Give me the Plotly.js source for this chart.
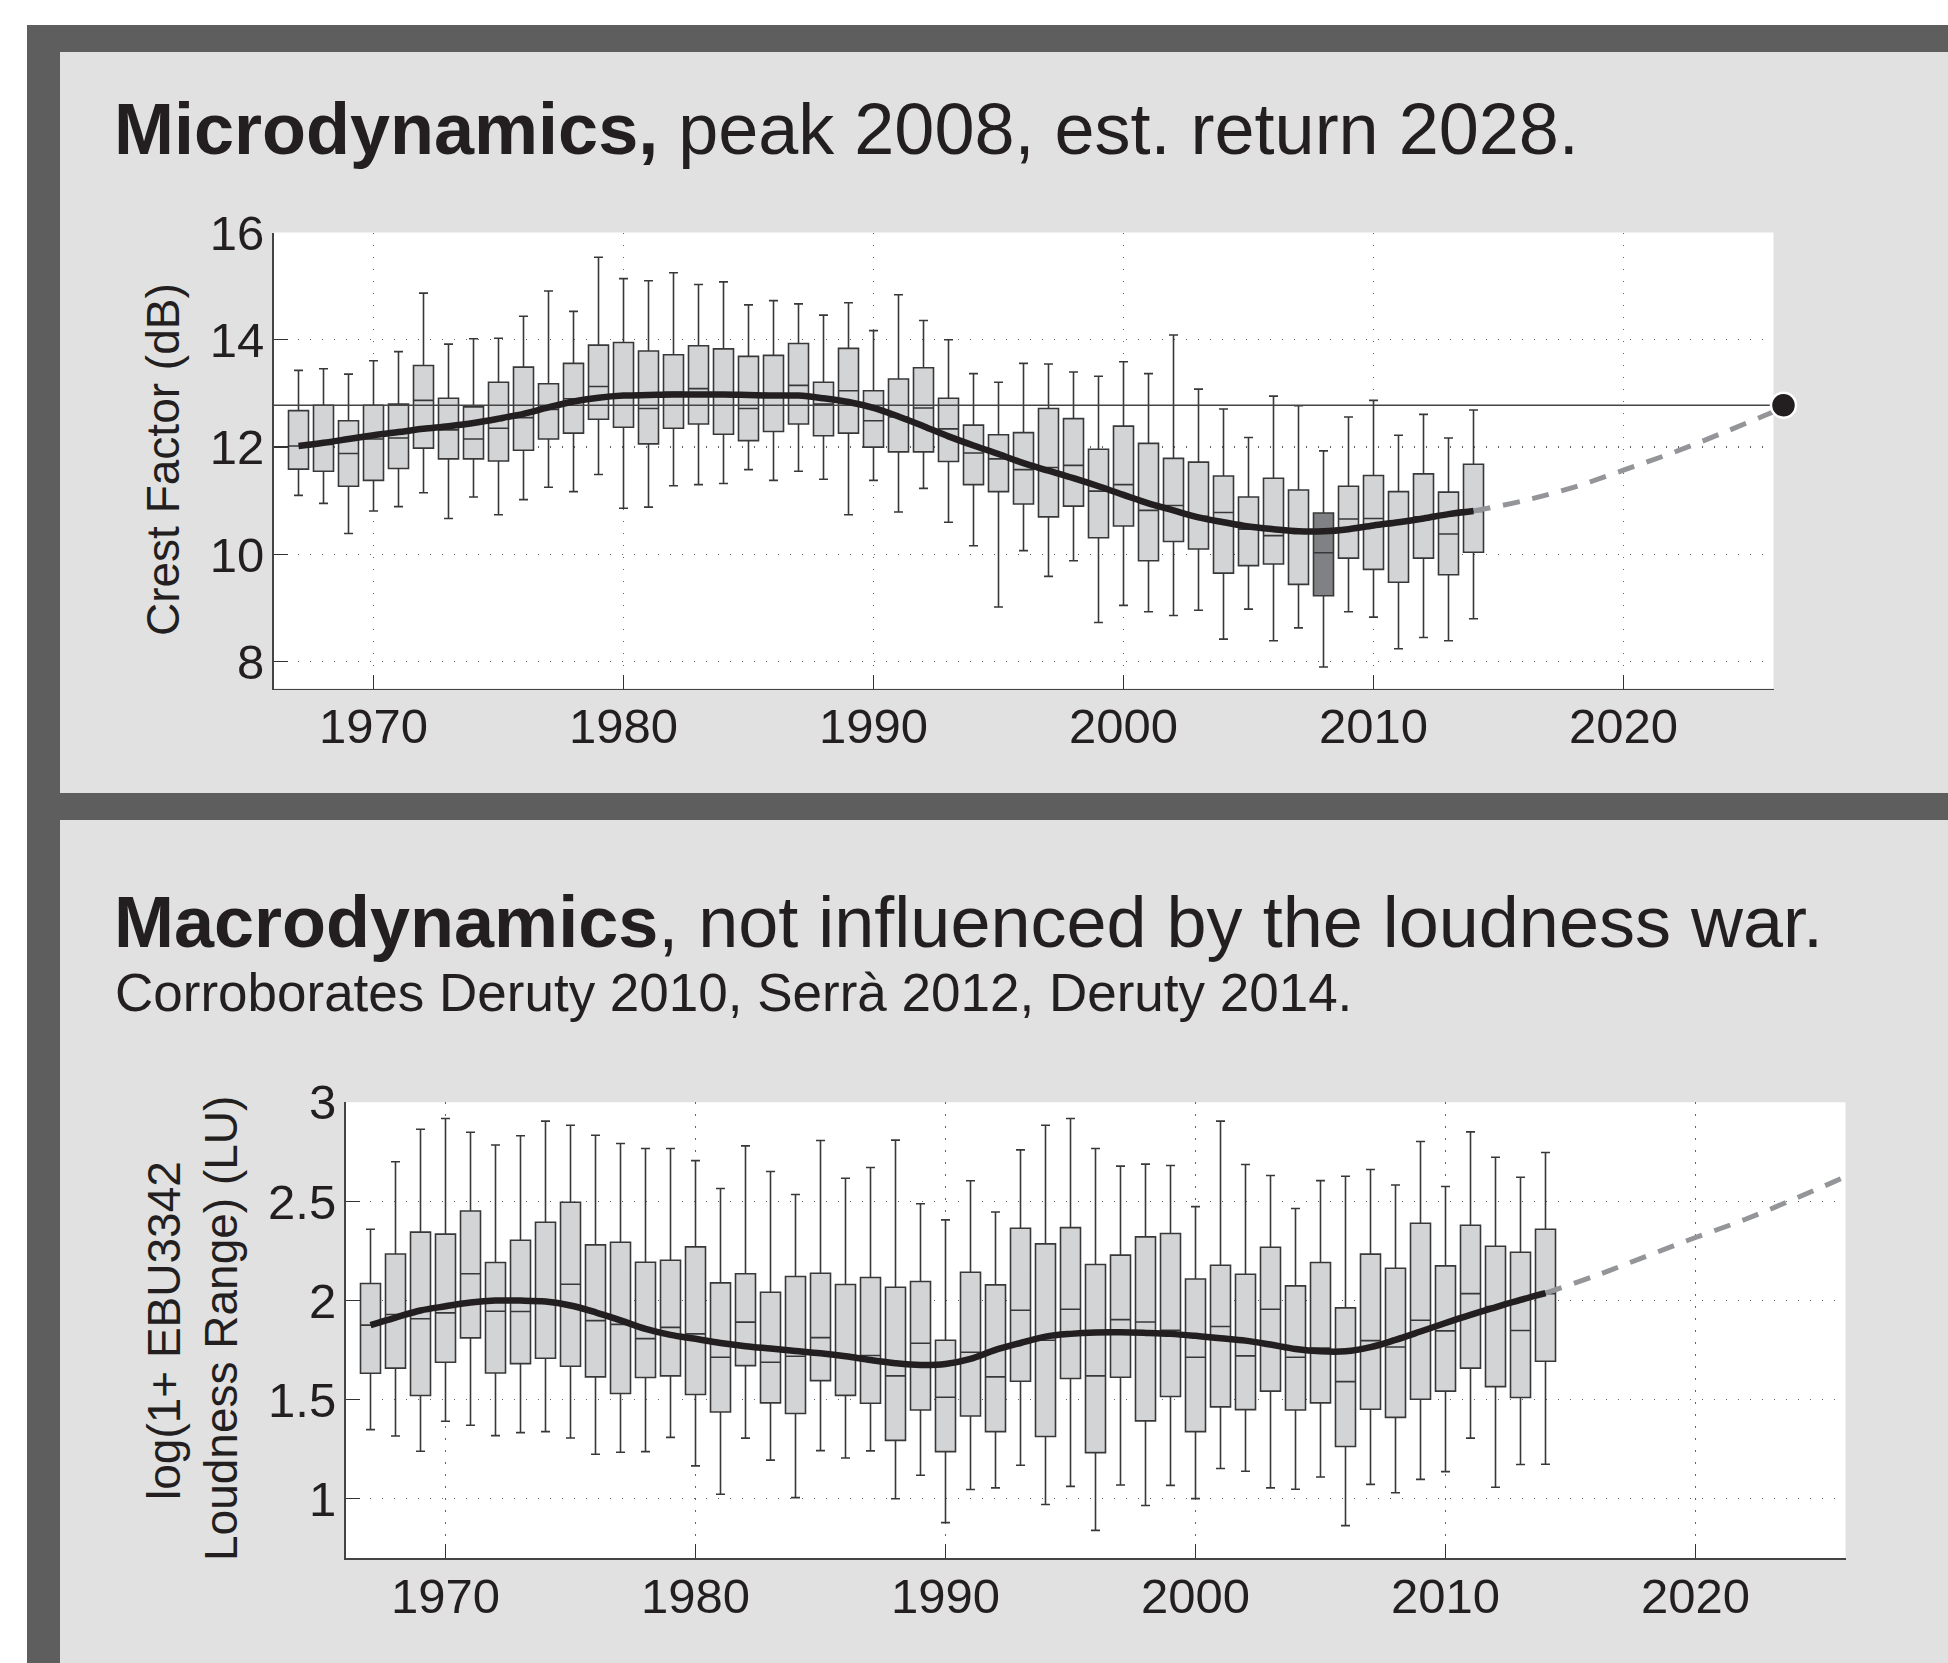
<!DOCTYPE html>
<html>
<head>
<meta charset="utf-8">
<script src="https://cdn.plot.ly/plotly-3.0.1.min.js"></script>
<style>
html,body{margin:0;padding:0;background:#fff;overflow:hidden;}
#chart{width:1948px;height:1663px;}
</style>
</head>
<body>
<div id="chart"></div>
<script>
// ---------- data ----------
var years = [1967,1968,1969,1970,1971,1972,1973,1974,1975,1976,1977,1978,1979,1980,1981,1982,1983,1984,1985,1986,1987,1988,1989,1990,1991,1992,1993,1994,1995,1996,1997,1998,1999,2000,2001,2002,2003,2004,2005,2006,2007,2008,2009,2010,2011,2012,2013,2014];

// Microdynamics: crest factor (dB)
var crestHigh = [13.43,13.46,13.36,13.61,13.78,14.87,13.92,14.02,14.03,14.44,14.91,14.53,15.54,15.14,15.10,15.25,15.03,15.08,14.65,14.73,14.67,14.46,14.69,14.17,14.84,14.36,14.00,13.37,13.21,13.56,13.55,13.40,13.32,13.59,13.37,14.09,13.08,12.71,12.18,12.95,12.77,11.93,12.56,12.87,12.22,12.61,12.17,12.69];
var crestQ3 = [12.68,12.78,12.49,12.78,12.80,13.52,12.91,12.75,13.21,13.49,13.18,13.56,13.90,13.95,13.79,13.72,13.89,13.83,13.69,13.71,13.93,13.21,13.84,13.05,13.27,13.48,12.91,12.41,12.23,12.27,12.72,12.53,11.96,12.39,12.07,11.79,11.72,11.46,11.07,11.42,11.20,10.77,11.27,11.47,11.17,11.50,11.16,11.68];
var crestMedian = [12.02,12.05,11.88,12.15,12.17,12.87,12.32,12.15,12.35,12.55,12.70,12.90,13.13,12.95,12.72,13.02,13.09,12.95,12.72,12.95,13.15,12.80,13.05,12.49,12.56,12.73,12.34,11.89,11.78,11.58,11.62,11.66,11.18,11.30,10.82,10.91,10.71,10.78,10.47,10.35,10.45,10.03,10.66,10.67,10.60,10.70,10.38,10.80];
var crestQ1 = [11.59,11.55,11.27,11.38,11.60,11.98,11.78,11.78,11.74,11.94,12.15,12.26,12.52,12.37,12.06,12.35,12.43,12.24,12.12,12.29,12.43,12.21,12.26,12.00,11.91,11.91,11.73,11.30,11.17,10.94,10.70,10.90,10.31,10.53,9.88,10.24,10.10,9.65,9.79,9.82,9.44,9.23,9.93,9.72,9.48,9.93,9.62,10.04];
var crestLow = [11.10,10.95,10.39,10.81,10.89,11.15,10.67,11.07,10.74,11.02,11.25,11.17,11.49,10.86,10.88,11.28,11.30,11.32,11.58,11.38,11.55,11.40,10.74,11.38,10.79,11.23,10.60,10.16,9.02,10.07,9.59,9.88,8.73,9.05,8.93,8.86,8.96,8.42,8.98,8.39,8.63,7.90,8.93,8.83,8.24,8.45,8.39,8.80];
var crestTrend = [12.02,12.08,12.15,12.22,12.28,12.34,12.39,12.45,12.53,12.62,12.74,12.85,12.92,12.96,12.97,12.98,12.98,12.98,12.97,12.96,12.96,12.91,12.84,12.73,12.57,12.39,12.20,12.03,11.87,11.70,11.56,11.42,11.27,11.11,10.95,10.82,10.69,10.60,10.52,10.47,10.43,10.43,10.47,10.54,10.60,10.67,10.75,10.81];
var crestForecastYears = [2014,2016,2018,2020,2022,2024,2026];
var crestForecast = [10.81,11.00,11.25,11.57,11.90,12.27,12.66];
var crestPeakYear = 2008;
var crestReference = 12.78;
var crestReturnX = 2026.4;

// Macrodynamics: log(1 + EBU3342 loudness range)
var lraHigh = [2.36,2.70,2.864,2.918,2.849,2.785,2.831,2.905,2.884,2.834,2.792,2.767,2.767,2.706,2.565,2.78,2.651,2.535,2.807,2.617,2.671,2.809,2.488,2.407,2.604,2.447,2.76,2.884,2.918,2.767,2.678,2.688,2.681,2.474,2.905,2.686,2.631,2.464,2.605,2.627,2.661,2.583,2.802,2.575,2.851,2.723,2.622,2.747];
var lraQ3 = [2.086,2.235,2.345,2.335,2.452,2.192,2.304,2.395,2.496,2.281,2.294,2.193,2.203,2.271,2.089,2.135,2.042,2.121,2.138,2.081,2.116,2.067,2.096,1.80,2.143,2.079,2.365,2.286,2.368,2.182,2.229,2.321,2.338,2.109,2.178,2.133,2.269,2.074,2.192,1.963,2.234,2.163,2.39,2.175,2.38,2.274,2.244,2.36];
var lraMedian = [1.876,1.93,1.908,1.938,2.135,1.946,1.945,1.99,2.082,1.899,1.88,1.808,1.865,1.832,1.714,1.891,1.689,1.719,1.813,1.72,1.723,1.62,1.785,1.512,1.739,1.615,1.951,1.80,1.956,1.62,1.904,1.892,1.85,1.714,1.869,1.721,1.956,1.714,1.76,1.591,1.798,1.766,1.901,1.847,2.035,1.97,1.849,2.034];
var lraQ1 = [1.633,1.659,1.521,1.689,1.812,1.635,1.682,1.709,1.669,1.615,1.531,1.612,1.62,1.526,1.438,1.672,1.484,1.43,1.596,1.522,1.482,1.295,1.448,1.238,1.418,1.339,1.593,1.314,1.607,1.233,1.613,1.393,1.516,1.339,1.464,1.45,1.543,1.448,1.484,1.264,1.452,1.411,1.502,1.543,1.659,1.566,1.511,1.694];
var lraLow = [1.349,1.317,1.24,1.391,1.371,1.319,1.334,1.339,1.307,1.225,1.235,1.238,1.31,1.166,1.023,1.306,1.195,1.006,1.243,1.206,1.242,1.0,1.119,0.88,1.047,1.055,1.169,0.971,1.063,0.841,1.07,0.966,1.068,1.001,1.153,1.139,1.055,1.048,1.11,0.865,1.073,1.031,1.098,1.137,1.306,1.058,1.173,1.174];
var lraTrend = [1.876,1.914,1.95,1.971,1.99,2.0,2.0,1.995,1.975,1.941,1.90,1.857,1.827,1.807,1.786,1.77,1.758,1.746,1.734,1.719,1.70,1.684,1.675,1.68,1.706,1.751,1.786,1.818,1.832,1.839,1.84,1.837,1.832,1.822,1.81,1.798,1.778,1.756,1.744,1.744,1.765,1.802,1.844,1.887,1.928,1.966,2.003,2.037];
var lraForecastYears = [2014,2016,2018,2020,2022,2024,2026];
var lraForecast = [2.037,2.125,2.222,2.318,2.41,2.515,2.625];

var xTicks = [1970,1980,1990,2000,2010,2020];
var crestTicks = [8,10,12,14,16];
var lraTicks = [1,1.5,2,2.5,3];
var lraTickText = ['1','1.5','2','2.5','3'];

var title1Bold = 'Microdynamics,';
var title1Rest = ' peak 2008, est. return 2028.';
var title2Bold = 'Macrodynamics';
var title2Rest = ', not influenced by the loudness war.';
var subtitle2 = 'Corroborates Deruty 2010, Serrà 2012, Deruty 2014.';
var yTitle1 = 'Crest Factor (dB)';
var yTitle2a = 'log(1+&nbsp;EBU3342';
var yTitle2b = 'Loudness Range) (LU)';

// ---------- geometry helpers (pixels -> paper) ----------
var W = 1948, H = 1663;
function px(x){ return x / W; }
function py(y){ return 1 - y / H; }

var FONT = 'Liberation Sans, Arial, Helvetica, sans-serif';
var INK = '#231f20';
var BOXFILL = '#d3d4d6';
var BOXLINE = '#383838';
var DASHGREY = '#939598';

function pick(arr, cond){ var o=[]; for(var i=0;i<arr.length;i++){ if(cond(years[i])) o.push(arr[i]); } return o; }
function boxTrace(xa, ya, cond, fill, q1, med, q3, lo, hi){
  return {
    type:'box', xaxis:xa, yaxis:ya,
    x: pick(years,cond), q1: pick(q1,cond), median: pick(med,cond), q3: pick(q3,cond),
    lowerfence: pick(lo,cond), upperfence: pick(hi,cond),
    width:0.8, whiskerwidth:0.45, boxpoints:false,
    fillcolor: fill, line:{color:BOXLINE, width:1.6},
    hoverinfo:'skip', showlegend:false
  };
}
var notPeak = function(y){ return y !== crestPeakYear; };
var isPeak = function(y){ return y === crestPeakYear; };
var all = function(){ return true; };

var traces = [];
traces.push(boxTrace('x','y',notPeak,BOXFILL,crestQ1,crestMedian,crestQ3,crestLow,crestHigh));
traces.push(boxTrace('x','y',isPeak,'#808184',crestQ1,crestMedian,crestQ3,crestLow,crestHigh));
traces.push({type:'scatter',mode:'lines',xaxis:'x',yaxis:'y',x:[1966,2026],y:[crestReference,crestReference],
  line:{color:'#444',width:1.5},hoverinfo:'skip',showlegend:false});
traces.push({type:'scatter',mode:'lines',xaxis:'x',yaxis:'y',x:crestForecastYears,y:crestForecast,
  line:{color:DASHGREY,width:5,dash:'17px,13px',shape:'spline'},hoverinfo:'skip',showlegend:false});
traces.push({type:'scatter',mode:'lines',xaxis:'x',yaxis:'y',x:years,y:crestTrend,
  line:{color:INK,width:6.5,shape:'spline'},hoverinfo:'skip',showlegend:false});
// return-point dot: drawn on a hidden twin axis with the same scale that reaches one year further
traces.push({type:'scatter',mode:'markers',xaxis:'x3',yaxis:'y3',x:[crestReturnX],y:[crestReference],cliponaxis:false,
  marker:{size:25,color:INK,line:{color:'#fff',width:2.5}},hoverinfo:'skip',showlegend:false});

traces.push(boxTrace('x2','y2',all,BOXFILL,lraQ1,lraMedian,lraQ3,lraLow,lraHigh));
traces.push({type:'scatter',mode:'lines',xaxis:'x2',yaxis:'y2',x:lraForecastYears,y:lraForecast,
  line:{color:DASHGREY,width:5,dash:'17px,13px',shape:'spline'},hoverinfo:'skip',showlegend:false});
traces.push({type:'scatter',mode:'lines',xaxis:'x2',yaxis:'y2',x:years,y:lraTrend,
  line:{color:INK,width:6.5,shape:'spline'},hoverinfo:'skip',showlegend:false});

function xAxis(domain, anchor){
  return {domain:domain, anchor:anchor, range:[1966,2026], tickmode:'array', tickvals:xTicks,
    ticks:'inside', ticklen:14, tickwidth:1.3, tickcolor:'#333',
    showline:true, linecolor:'#444', linewidth:1.5, mirror:false,
    showgrid:true, gridcolor:'#666', gridwidth:1.2, griddash:'1.5px,10.5px', zeroline:false,
    tickfont:{family:FONT,size:49,color:INK}, ticklabelstandoff:-6, fixedrange:true};
}
function yAxis(domain, anchor, range, vals, text){
  var a = {domain:domain, anchor:anchor, range:range, tickmode:'array', tickvals:vals,
    ticks:'inside', ticklen:14, tickwidth:1.3, tickcolor:'#333',
    showline:true, linecolor:'#444', linewidth:1.5, mirror:false,
    showgrid:true, gridcolor:'#666', gridwidth:1.2, griddash:'1.5px,10.5px', zeroline:false,
    tickfont:{family:FONT,size:49,color:INK}, ticklabelstandoff:-2, fixedrange:true};
  if(text) a.ticktext = text;
  return a;
}

var shapes = [
  {type:'rect',xref:'paper',yref:'paper',x0:px(27),x1:px(W),y0:py(25),y1:py(H),fillcolor:'#5e5e5e',line:{width:0},layer:'below'},
  {type:'rect',xref:'paper',yref:'paper',x0:px(60),x1:px(W),y0:py(52),y1:py(793),fillcolor:'#e1e1e1',line:{width:0},layer:'below'},
  {type:'rect',xref:'paper',yref:'paper',x0:px(60),x1:px(W),y0:py(820),y1:py(H),fillcolor:'#e1e1e1',line:{width:0},layer:'below'},
  {type:'rect',xref:'paper',yref:'paper',x0:px(273.5),x1:px(1773.5),y0:py(232.5),y1:py(688.5),fillcolor:'#ffffff',line:{width:0},layer:'below'},
  {type:'rect',xref:'paper',yref:'paper',x0:px(345.5),x1:px(1845.5),y0:py(1102.3),y1:py(1558.3),fillcolor:'#ffffff',line:{width:0},layer:'below'}
];

var annotations = [
  {xref:'paper',yref:'paper',x:px(112),y:py(154-0.35*72),xanchor:'left',yanchor:'middle',showarrow:false,
   text:'<b>'+title1Bold+'</b>'+title1Rest,font:{family:FONT,size:72,color:INK}},
  {xref:'paper',yref:'paper',x:px(112),y:py(947-0.35*72),xanchor:'left',yanchor:'middle',showarrow:false,
   text:'<b>'+title2Bold+'</b>'+title2Rest,font:{family:FONT,size:72,color:INK}},
  {xref:'paper',yref:'paper',x:px(113),y:py(1011-0.35*53),xanchor:'left',yanchor:'middle',showarrow:false,
   text:subtitle2,font:{family:FONT,size:53,color:INK}},
  {xref:'paper',yref:'paper',x:px(163),y:py(460),xanchor:'center',yanchor:'middle',showarrow:false,textangle:-90,
   text:yTitle1,font:{family:FONT,size:46,color:INK}},
  {xref:'paper',yref:'paper',x:px(164),y:py(1331),xanchor:'center',yanchor:'middle',showarrow:false,textangle:-90,
   text:yTitle2a,font:{family:FONT,size:46,color:INK}},
  {xref:'paper',yref:'paper',x:px(221),y:py(1329),xanchor:'center',yanchor:'middle',showarrow:false,textangle:-90,
   text:yTitle2b,font:{family:FONT,size:46,color:INK}}
];

var layout = {
  width:W, height:H, margin:{l:0,r:0,t:0,b:0,pad:0},
  paper_bgcolor:'#ffffff', plot_bgcolor:'rgba(0,0,0,0)',
  showlegend:false, boxmode:'overlay',
  xaxis: xAxis([px(273.5),px(1773.5)],'y'),
  yaxis: yAxis([py(688.5),py(232.5)],'x',[7.5,16],crestTicks,null),
  xaxis2: xAxis([px(345.5),px(1845.5)],'y2'),
  yaxis2: yAxis([py(1558.3),py(1102.3)],'x2',[0.7,3],lraTicks,lraTickText),
  xaxis3: {domain:[px(273.5),px(1798.5)], anchor:'y3', range:[1966,2027], visible:false, fixedrange:true},
  yaxis3: {domain:[py(688.5),py(232.5)], anchor:'x3', range:[7.5,16], visible:false, fixedrange:true},
  shapes:shapes, annotations:annotations
};

Plotly.newPlot('chart', traces, layout, {staticPlot:true, displayModeBar:false});
</script>
</body>
</html>
